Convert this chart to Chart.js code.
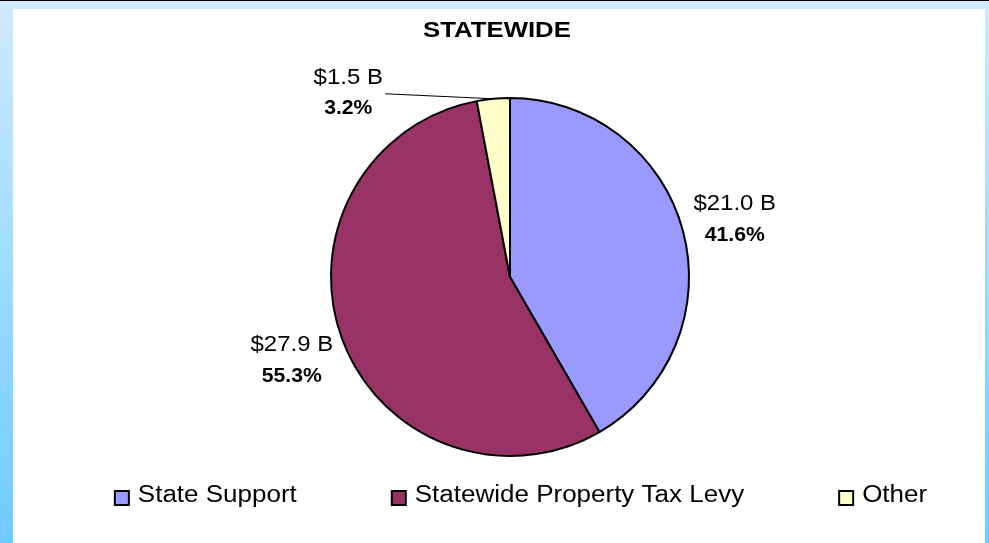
<!DOCTYPE html>
<html>
<head>
<meta charset="utf-8">
<script src="https://cdn.jsdelivr.net/npm/chart.js@4"></script>
<style>
  html, body { margin: 0; padding: 0; }
  body {
    width: 989px; height: 542px; overflow: hidden; position: relative;
    border-top: 1px solid #000;
    background: linear-gradient(to bottom, #cfeaff, #6ecbff);
  }
  #panel { position: absolute; left: 13px; top: 8px; width: 972px; height: 534px; background: #fff; }
  #chart { position: absolute; left: 0; top: -1px; }
</style>
</head>
<body>
<div id="panel"></div>
<canvas id="chart" width="989" height="543"></canvas>
<script>
// Chart data
const chartTitle = "STATEWIDE";
const categories = ["State Support", "Statewide Property Tax Levy", "Other"];
const amounts = [21.0, 27.9, 1.5];
const amountLabels = ["$21.0 B", "$27.9 B", "$1.5 B"];
const percentLabels = ["41.6%", "55.3%", "3.2%"];
const sliceColors = ["#9999ff", "#993366", "#ffffcc"];

const FONT = "'Liberation Sans', Arial, sans-serif";

// draw text slightly stretched horizontally like the original picture
function drawText(ctx, text, x, y, font, sx, align) {
    ctx.save();
    ctx.translate(x, y);
    ctx.scale(sx, 1);
    ctx.font = font;
    ctx.fillStyle = "#000";
    ctx.textAlign = align || "center";
    ctx.textBaseline = "middle";
    ctx.fillText(text, 0, 0);
    ctx.restore();
}

// title, slice labels and legend
const decorPlugin = {
    id: "decor",
    afterDraw(chart) {
        const ctx = chart.ctx;
        drawText(ctx, chartTitle, 497, 31, "bold 22px " + FONT, 1.17);

        const arcs = chart.getDatasetMeta(0).data;
        arcs.forEach((arc, i) => {
            const p = arc.getProps(["x", "y", "startAngle", "endAngle", "outerRadius"], true);
            const mid = (p.startAngle + p.endAngle) / 2;
            let lx, ly, up = 13, down = 19;
            if (i === 2) {
                // small slice: label off to the left with a leader line
                const ex = p.x + p.outerRadius * Math.cos(mid);
                const ey = p.y + p.outerRadius * Math.sin(mid);
                lx = ex - 145;
                ly = ey - 5;
                up = 16; down = 15;
                ctx.save();
                ctx.strokeStyle = "#000";
                ctx.lineWidth = 1;
                ctx.beginPath();
                ctx.moveTo(lx + 37, ly);
                ctx.lineTo(ex, ey);
                ctx.stroke();
                ctx.restore();
            } else {
                const d = p.outerRadius * 1.3;
                lx = p.x + d * Math.cos(mid);
                ly = p.y + d * Math.sin(mid);
            }
            drawText(ctx, amountLabels[i], lx, ly - up, "22px " + FONT, 1.09);
            drawText(ctx, percentLabels[i], lx, ly + down, "bold 20px " + FONT, 1.06);
        });

        // legend
        const sx = 1.13, box = 14, gapText = 9, gapItem = 95;
        ctx.save();
        ctx.font = "23px " + FONT;
        const widths = categories.map(c => ctx.measureText(c).width * sx);
        ctx.restore();
        const total = widths.reduce((a, w) => a + box + gapText + w, 0) + gapItem * (categories.length - 1);
        let x = 521 - total / 2;
        const y = 498;
        categories.forEach((c, i) => {
            ctx.save();
            ctx.fillStyle = sliceColors[i];
            ctx.strokeStyle = "#000";
            ctx.lineWidth = 2;
            ctx.fillRect(x, y - box / 2, box, box);
            ctx.strokeRect(x, y - box / 2, box, box);
            ctx.restore();
            drawText(ctx, c, x + box + gapText, y - 2, "23px " + FONT, sx, "left");
            x += box + gapText + widths[i] + gapItem;
        });
    }
};

const ctx = document.querySelector("#chart").getContext("2d");
const chart = new Chart(ctx, {
    type: "pie",
    data: {
        labels: categories,
        datasets: [{
            data: amounts,
            backgroundColor: sliceColors,
            borderColor: "#000",
            borderWidth: 2
        }]
    },
    options: {
        responsive: false,
        animation: false,
        layout: { padding: { top: 97, bottom: 86, left: 330, right: 299 } },
        plugins: {
            legend: { display: false },
            title: { display: false },
            tooltip: { enabled: false }
        }
    },
    plugins: [decorPlugin]
});
</script>
</body>
</html>
